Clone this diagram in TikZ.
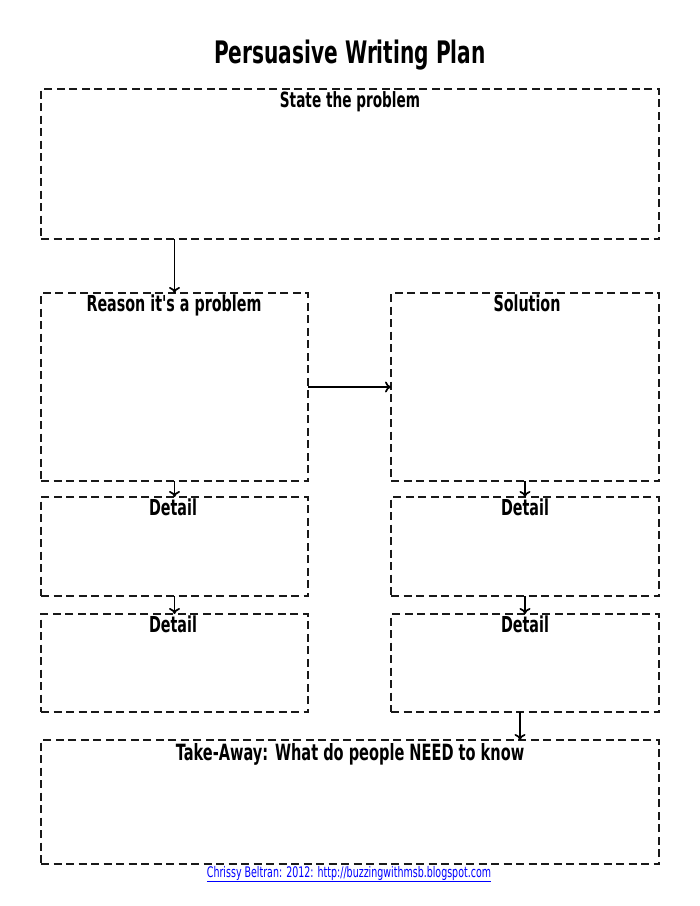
\documentclass[tikz,border=0pt]{standalone}
\usepackage{fontspec}
\newfontfamily\hand{DejaVu Sans}[FakeStretch=0.65]
\usetikzlibrary{arrows.meta}
\begin{document}
\begin{tikzpicture}[x=1pt,y=-1pt,
  box/.style={draw=black!90, line width=2.3pt, dash pattern=on 8pt off 4.5pt, inner sep=0pt, outer sep=0pt, rectangle},
  lbl/.style={font=\hand\bfseries\fontsize{22}{24}\selectfont, inner sep=0pt, anchor=north},
  arr/.style={line width=1.8pt, -{To[length=6pt,width=11pt,line width=1.7pt]}}]
\useasboundingbox[fill=white] (0,0) rectangle (700,906);
\node[font=\hand\bfseries\fontsize{31}{36}\selectfont, inner sep=0pt] (title) at (350,55) {Persuasive Writing Plan};
\node[box, minimum width=618pt, minimum height=150pt] (state) at (350,164) {};
\node[box, minimum width=267pt, minimum height=188pt] (reason) at (174.5,387) {};
\node[box, minimum width=268pt, minimum height=188pt] (sol) at (525,387) {};
\node[box, minimum width=267pt, minimum height=99pt] (ld1) at (174.5,546.5) {};
\node[box, minimum width=267pt, minimum height=98pt] (ld2) at (174.5,663) {};
\node[box, minimum width=268pt, minimum height=99pt] (rd1) at (525,546.5) {};
\node[box, minimum width=268pt, minimum height=98pt] (rd2) at (525,663) {};
\node[box, minimum width=618pt, minimum height=124pt] (take) at (350,802) {};
\node[lbl, font=\hand\bfseries\fontsize{21}{24}\selectfont] (tstate) at (350,91) {State the problem};
\node[lbl] (treason) at (174,295) {Reason it's a problem};
\node[lbl] (tsol) at (527,295) {Solution};
\node[lbl] (tld1) at (173,499) {Detail};
\node[lbl] (tld2) at (173,616) {Detail};
\node[lbl] (trd1) at (525,499) {Detail};
\node[lbl] (trd2) at (525,616) {Detail};
\node[lbl, font=\hand\bfseries\fontsize{22.4}{24}\selectfont] (ttake) at (350,743) {Take-Away: What do people NEED to know};
\node[font=\hand\fontsize{14.6}{16}\selectfont, text=blue, inner sep=0pt] (foot) at (349,874) {\underline{Chrissy Beltran: 2012: http://buzzingwithmsb.blogspot.com}};
\draw[arr] (reason.north |- state.south) -- (reason.north);
\draw[arr] (reason.east) -- (sol.west);
\draw[arr] (reason.south) -- (ld1.north);
\draw[arr] (ld1.south) -- (ld2.north);
\draw[arr] (sol.south) -- (rd1.north);
\draw[arr] (rd1.south) -- (rd2.north);
\coordinate (rdout) at ([xshift=-5pt]rd2.south);
\draw[arr] (rdout) -- (rdout |- take.north);
\end{tikzpicture}
\end{document}
